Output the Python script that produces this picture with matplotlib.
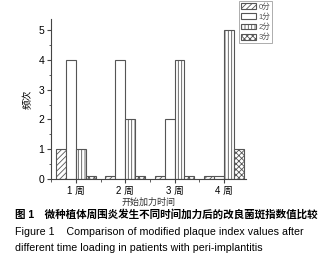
import matplotlib
matplotlib.use("Agg")
import matplotlib.pyplot as plt
import numpy as np
from matplotlib.ticker import MultipleLocator

plt.rcParams['font.family'] = ['Liberation Sans', 'Noto Sans CJK SC', 'DejaVu Sans']
plt.rcParams['hatch.linewidth'] = 0.6

groups = ["1 周", "2 周", "3 周", "4 周"]
series = ["0分", "1分", "2分", "3分"]
values = {
    "0分": [1.0, 0.1, 0.1, 0.1],
    "1分": [4.0, 4.0, 2.0, 0.1],
    "2分": [1.0, 2.0, 4.0, 5.0],
    "3分": [0.1, 0.1, 0.1, 1.0],
}
hatches = ["//////", "", "|||||", "xxxxxx"]

fig = plt.figure(figsize=(3.28, 2.59), dpi=100)
ax = fig.add_axes([51/328, 1-179/259, 195/328, 160/259])

x = np.arange(1, len(groups) + 1)
w = 0.2
edge = "#555555"
for i, s in enumerate(series):
    ax.bar(x + (i - 1.5) * w, values[s], width=w, facecolor="white",
           edgecolor=edge, linewidth=0.8, hatch=hatches[i], label=s)

ax.set_xlim(0.495, 4.45)
ax.set_ylim(0, 5.37)
ax.set_xticks(x)
ax.set_xticklabels(groups, fontsize=7)
ax.yaxis.set_major_locator(MultipleLocator(1))
ax.yaxis.set_minor_locator(MultipleLocator(0.5))
ax.xaxis.set_minor_locator(MultipleLocator(0.5))
ax.tick_params(axis='both', which='major', length=3, width=0.8, color="#444444", labelsize=7.5, pad=2)
ax.tick_params(axis='x', which='major', labelsize=7)
ax.tick_params(axis='both', which='minor', length=1.8, width=0.6, color="#444444")
for sp in ["top", "right"]:
    ax.spines[sp].set_visible(False)
for sp in ["left", "bottom"]:
    ax.spines[sp].set_color("#444444")
    ax.spines[sp].set_linewidth(0.8)

ax.set_ylabel("频次", fontsize=7, labelpad=4)
ax.set_xlabel("开始加力时间", fontsize=6.5, labelpad=1, color="#333333")

leg = fig.legend(loc="upper left", bbox_to_anchor=(239/328, 1-1/259), fontsize=5.5,
                 frameon=True, fancybox=False, edgecolor="#888888",
                 handlelength=2.0, handleheight=0.8, handletextpad=0.3,
                 borderpad=0.25, labelspacing=0.35, borderaxespad=0,
                 labelcolor="#555555")
leg.get_frame().set_linewidth(0.6)

fig.text(15/328, 1-214/259, "图 1　微种植体周围炎发生不同时间加力后的改良菌斑指数值比较",
         fontsize=7.6, fontweight="bold", va="center", ha="left")
fig.text(15/328, 1-232/259, "Figure 1    Comparison of modified plaque index values after",
         fontsize=7.7, va="center", ha="left")
fig.text(15/328, 1-248/259, "different time loading in patients with peri-implantitis",
         fontsize=7.7, va="center", ha="left")

fig.savefig("out.png", dpi=100)
